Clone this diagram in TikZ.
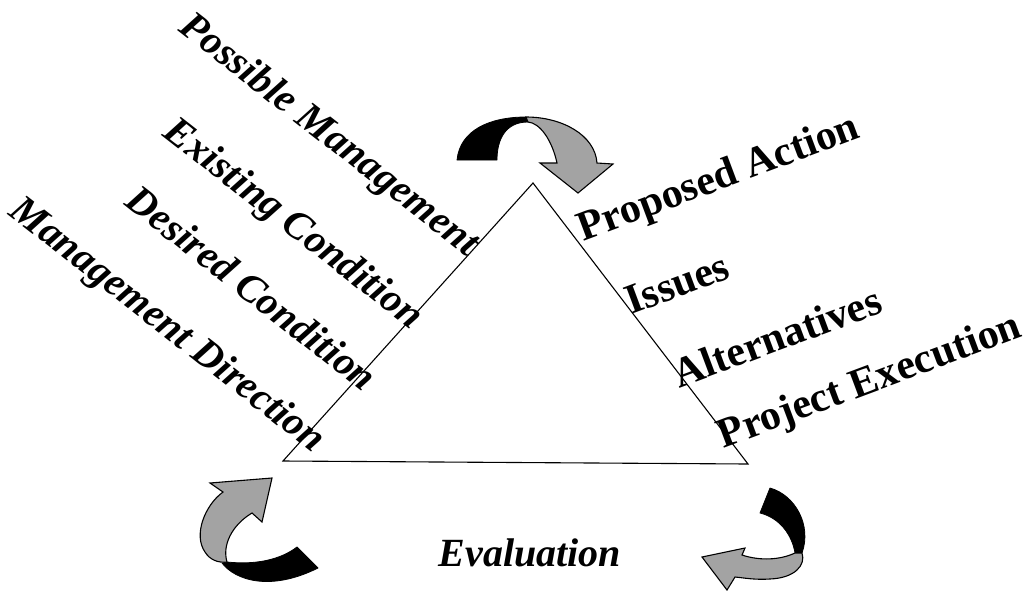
\documentclass[tikz,border=0pt]{standalone}
\usepackage{fontspec}
\setmainfont{Liberation Serif}
\begin{document}
\begin{tikzpicture}[x=1pt,y=-1pt,
  lefttxt/.style={font=\fontsize{40.5}{48}\selectfont\bfseries\itshape, anchor=mid, inner sep=0pt, rotate=-38},
  righttxt/.style={font=\fontsize{42}{50}\selectfont\bfseries, anchor=mid, inner sep=0pt, rotate=20.5},
  bottxt/.style={font=\fontsize{40}{48}\selectfont\bfseries\itshape, anchor=mid, inner sep=0pt},
  tri/.style={draw=black, line width=1.1pt, line join=miter},
  backpart/.style={fill=black, draw=black, line width=0.8pt, line join=round},
  frontpart/.style={fill=black!36, draw=black, line width=1.1pt, line join=miter}]
\useasboundingbox (0,0) rectangle (1028,598);
% triangle
\coordinate (apex) at (533,183);
\coordinate (bl) at (283,461);
\coordinate (br) at (748,464);
\draw[tri] (apex) -- (bl) -- (br) -- cycle;
% top arrow
\path[backpart] (457,160) .. controls (460,130) and (490,117) .. (526,117)
  -- (528,122) .. controls (505,122) and (497,140) .. (497,160) -- cycle;
\path[frontpart] (526,117) .. controls (562,117) and (595,135) .. (597,163)
  -- (613,164) -- (578,193) -- (540,163) -- (557,163)
  .. controls (552,140) and (540,123) .. (528,122) -- cycle;
% bottom-right arrow
\path[backpart] (770,488) .. controls (795,495) and (812,525) .. (802,553)
  -- (795,553) .. controls (792,535) and (780,518) .. (760,513) -- cycle;
\path[frontpart] (742,555) .. controls (760,561) and (780,560) .. (795,553)
  -- (802,553) .. controls (806,565) and (795,578) .. (770,579)
  .. controls (755,580) and (745,578) .. (735,577)
  -- (727,590) -- (702,557) -- (745,548) -- cycle;
% bottom-left arrow
\path[backpart] (222,563) .. controls (235,580) and (270,592) .. (318,568)
  -- (297,547) .. controls (280,560) and (255,565) .. (227,562) -- cycle;
\path[frontpart] (223,492) .. controls (205,505) and (193,535) .. (205,552)
  .. controls (210,560) and (218,563) .. (227,562)
  .. controls (222,545) and (232,525) .. (252,513)
  -- (262,522) -- (272,478) -- (210,483) -- cycle;
% left labels
\node[lefttxt] (pm) at (324,142) {Possible Management};
\node[lefttxt] (ec) at (288,231) {Existing Condition};
\node[lefttxt] (dc) at (245,297) {Desired Condition};
\node[lefttxt] (md) at (162,332) {Management Direction};
% right labels
\node[righttxt] (pa) at (722,187) {Proposed Action};
\node[righttxt] (is) at (681,294) {Issues};
\node[righttxt] (al) at (781,348) {Alternatives};
\node[righttxt] (pe) at (873,390) {Project Execution};
% bottom label
\node[bottxt] (ev) at (530,564) {Evaluation};
\end{tikzpicture}
\end{document}
